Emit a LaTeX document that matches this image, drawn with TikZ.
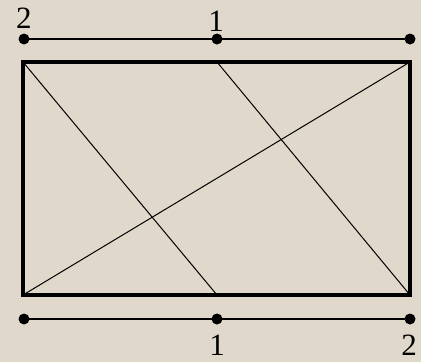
\documentclass[tikz,border=0pt]{standalone}
\usepackage{fontspec}
\setmainfont{Liberation Serif}
\definecolor{parch}{RGB}{224,217,203}
\begin{document}
\begin{tikzpicture}[x=1pt,y=-1pt,
  seg/.style={line width=2.4pt},
  frame/.style={line width=3.4pt},
  diag/.style={line width=1pt},
  dot/.style={circle,fill=black,inner sep=0pt,minimum size=11pt},
  lbl/.style={font=\fontsize{31}{31}\selectfont,inner sep=0pt}]
\fill[parch] (0,0) rectangle (421,362);
\useasboundingbox (0,0) rectangle (421,362);
% top segment
\node[dot] (tl) at (24,39) {};
\node[dot] (tm) at (217,39) {};
\node[dot] (tr) at (410,39) {};
\draw[seg] (tl.center) -- (tr.center);
% bottom segment
\node[dot] (bl) at (24,319) {};
\node[dot] (bm) at (217,319) {};
\node[dot] (br) at (410,319) {};
\draw[seg] (bl.center) -- (br.center);
% rectangle
\coordinate (A) at (23,62);
\coordinate (B) at (410,62);
\coordinate (C) at (410,295);
\coordinate (D) at (23,295);
\coordinate (M) at (217,62);
\coordinate (N) at (217,295);
\draw[frame] (A) rectangle (C);
\draw[diag] (A) -- (N);
\draw[diag] (M) -- (C);
\draw[diag] (D) -- (B);
% labels
\node[lbl,anchor=base] (l2t) at (24,28) {2};
\node[lbl,anchor=base] (l1t) at (216,31) {1};
\node[lbl,anchor=base] (l1b) at (217,355) {1};
\node[lbl,anchor=base] (l2b) at (409,355) {2};
\end{tikzpicture}
\end{document}
